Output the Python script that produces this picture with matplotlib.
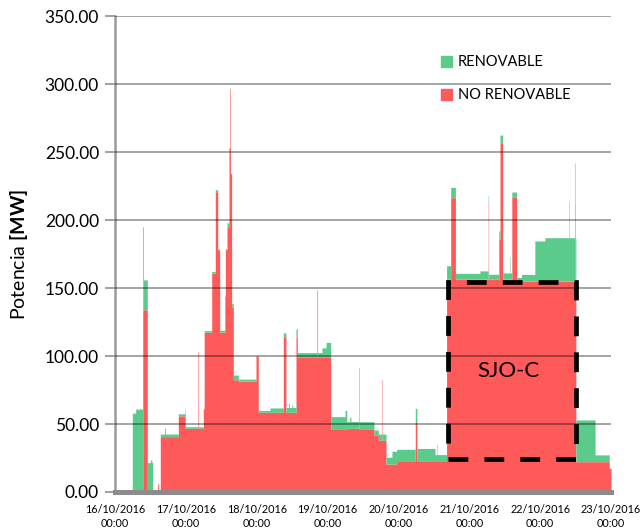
import numpy as np
import matplotlib
matplotlib.use("Agg")
import matplotlib.pyplot as plt
from matplotlib.patches import Patch, Rectangle

plt.rcParams['font.family'] = ['Lato', 'DejaVu Sans']
plt.rcParams['mathtext.fontset'] = 'custom'
plt.rcParams['mathtext.rm'] = 'Lato'
plt.rcParams['mathtext.bf'] = 'Lato:bold'

# ---- data (hours since 16/10/2016 00:00, step start) ----
hours = [0, 5.86, 7.0, 9.4, 9.65, 10.94, 12.0, 12.5, 12.77, 14.46, 14.8, 15.34, 16.8, 17.1,
         21.44, 23.7, 23.85, 28.1, 28.3, 29.9, 30.2, 32.75, 33.97, 34.8, 35.46, 37.2,
         37.36, 37.93, 38.61, 38.9, 39.1, 39.5, 40.07, 41.76, 47.75, 48.53, 52.5, 57.0,
         57.9, 58.8, 59.1, 59.9, 60.2, 61.3, 61.75, 68.4, 68.6, 70.1, 71.5, 73.06, 77.9,
         78.5, 79.5, 79.9, 82.6, 82.75, 87.7, 89.2, 90.25, 90.4, 91.8, 93.8, 95.4, 101.7,
         102.25, 108.4, 109.0, 109.15, 112.3, 113.7, 115.3, 123.6, 126.4, 126.55, 130.0,
         130.4, 131.3, 133.7, 133.85, 134.4, 136.05, 137.7, 142.2, 145.6, 153.75, 153.9,
         155.8, 155.97, 156.1, 162.6, 167.4]
no_renovable = [0, 0, 0, 134, 134, 0, 0, 0, 0, 6, 0, 40.7, 40.7, 40.7,
                56, 46.8, 46.8, 103, 46.8, 61, 117.5, 161, 220.8, 178, 117.6, 144,
                178, 195, 252.7, 296, 234, 136, 82.5, 81.5, 100, 58.6, 58.6, 114.2,
                58.6, 58.6, 58.6, 58.6, 58.6, 114, 99, 148.5, 99, 99, 99, 46, 46,
                46.8, 46.8, 46.8, 91.7, 46, 41.9, 38, 83, 38, 20.6, 20.6, 23, 51,
                23, 23, 23, 23, 156.6, 216.4, 156.6, 156.6, 213.5, 156.6, 186,
                256.4, 156.6, 156.6, 156.6, 216.7, 155, 155, 155, 155, 155, 155,
                212, 156.4, 22.3, 22.3, 17.4]
renovable = [0, 58, 61, 61, 22, 21.6, 23.5, 21.6, 0, 0, 0, 1.9, 6.3, 1.9,
             1.5, 14, 1.2, 0, 1.2, 0.5, 1.2, 1.2, 1.5, 0.8, 1.4, 0,
             1, 3, 1, 1, 0.5, 2.6, 3.5, 1.5, 0, 1.4, 3.2, 2.8,
             3.5, 6.5, 3.5, 5.5, 3.5, 6, 3.5, 0, 3.5, 7, 11, 9.4, 14,
             5, 8.2, 5, 0, 5.7, 3.7, 4.6, 0, 4.6, 5, 9.4, 8.4, 10.5,
             9, 4.5, 12, 4.5, 9.8, 7.6, 4.2, 6, 4.5, 3.5, 6,
             6.1, 4.5, 16.4, 4.5, 3.9, 2.8, 5, 29.6, 32, 59, 32,
             30, 30.1, 30.7, 5, 0]
end_hour = 168
day_labels = ['16/10/2016\n00:00', '17/10/2016\n00:00', '18/10/2016\n00:00',
              '19/10/2016\n00:00', '20/10/2016\n00:00', '21/10/2016\n00:00',
              '22/10/2016\n00:00', '23/10/2016\n00:00']
y_ticks = [0, 50, 100, 150, 200, 250, 300, 350]

RED = '#FF5A5A'
GREEN = '#5BCB8C'

t = np.array(hours + [end_hour], dtype=float)
r = np.array(no_renovable + [no_renovable[-1]], dtype=float)
g = np.array(renovable + [renovable[-1]], dtype=float)

fig = plt.figure(figsize=(6.4, 5.3), dpi=100)
ax = fig.add_axes([0.1797, 0.0717, 0.775, 0.898])

c1 = ax.fill_between(t, 0, r, step='post', color=RED, linewidth=0, zorder=2)
c2 = ax.fill_between(t, r, r + g, step='post', color=GREEN, linewidth=0, zorder=2)
c1.set_snap(False)
c2.set_snap(False)

ax.set_xlim(0, end_hour)
ax.set_ylim(0, 350)
ax.set_yticks(y_ticks)
ax.set_yticklabels([f'{v:.2f}' for v in y_ticks], fontsize=12.5)
ax.set_xticks(np.arange(0, end_hour + 1, 24))
ax.set_xticklabels(day_labels, fontsize=7.8, linespacing=1.3)

for v in y_ticks:
    ax.axhline(v, color='black', alpha=0.42, linewidth=1.2, zorder=3)

ax.tick_params(axis='y', length=7, width=1.2, color='#8f8f8f', pad=4.5)
ax.tick_params(axis='x', length=0, pad=9)
for s in ['top', 'right']:
    ax.spines[s].set_visible(False)
ax.spines['left'].set_color('#9a9a9a')
ax.spines['left'].set_linewidth(1.8)
ax.spines['bottom'].set_color('#8c8c8c')
ax.spines['bottom'].set_linewidth(3.6)
ax.spines['bottom'].set_zorder(4)

# SJO-C dashed box
rect = Rectangle((112.8, 23.9), 156.1 - 112.8, 154.4 - 23.9, fill=False,
                 edgecolor='black', linewidth=3.4, linestyle=(0, (4.2, 3.4)), zorder=5)
ax.add_patch(rect)
ax.text(133.1, 89, 'SJO-C', fontsize=16, ha='center', va='center', zorder=6)

handles = [Patch(color=GREEN, label='RENOVABLE'), Patch(color=RED, label='NO RENOVABLE')]
ax.legend(handles=handles, loc='upper left', bbox_to_anchor=(0.63, 0.945), frameon=False,
          handlelength=0.75, handleheight=0.75, handletextpad=0.45, labelspacing=1.3,
          fontsize=10.5)

fig.text(19 / 640, 1 - 254 / 530, 'Potencia $\\mathbf{[MW]}$', rotation=90,
         ha='center', va='center', fontsize=14)

fig.savefig('out.png', dpi=100)
